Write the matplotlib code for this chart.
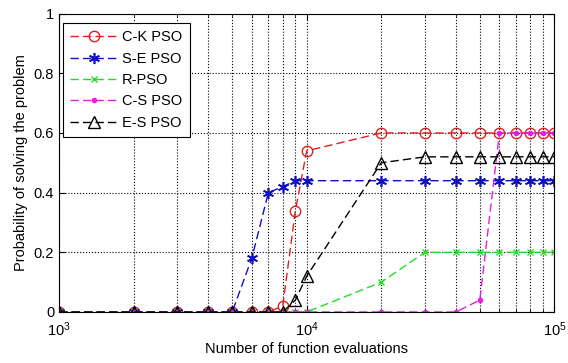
import numpy as np
import matplotlib
matplotlib.use('Agg')
import matplotlib.pyplot as plt
from matplotlib.ticker import FixedLocator, LogLocator, NullFormatter

plt.rcParams.update({
    'font.family': ['Liberation Sans', 'DejaVu Sans'],
    'font.size': 10.5,
    'xtick.direction': 'in',
    'ytick.direction': 'in',
    'xtick.top': True,
    'ytick.right': True,
    'lines.dashed_pattern': (6, 3),
})

# function evaluations (x) and success probability for each variant
evals = [1000, 2000, 3000, 4000, 5000, 6000, 7000, 8000, 9000, 10000,
         20000, 30000, 40000, 50000, 60000, 70000, 80000, 90000, 100000]
ck_pso = [0, 0, 0, 0, 0, 0, 0, 0.02, 0.34, 0.54,
          0.6, 0.6, 0.6, 0.6, 0.6, 0.6, 0.6, 0.6, 0.6]
se_pso = [0, 0, 0, 0, 0, 0.18, 0.40, 0.42, 0.44, 0.44,
          0.44, 0.44, 0.44, 0.44, 0.44, 0.44, 0.44, 0.44, 0.44]
r_pso = [0, 0, 0, 0, 0, 0, 0, 0, 0, 0,
         0.10, 0.2, 0.2, 0.2, 0.2, 0.2, 0.2, 0.2, 0.2]
cs_pso = [0, 0, 0, 0, 0, 0, 0, 0, 0, 0,
          0, 0, 0, 0.04, 0.6, 0.6, 0.6, 0.6, 0.6]
es_pso = [0, 0, 0, 0, 0, 0, 0, 0, 0.04, 0.12,
          0.50, 0.52, 0.52, 0.52, 0.52, 0.52, 0.52, 0.52, 0.52]

fig = plt.figure(figsize=(5.68, 3.63), dpi=100)
ax = fig.add_axes([0.104, 0.1405, 0.872, 0.822])

asterisk = (6, 2, 0)
ax.plot(evals, ck_pso, '--', marker='o', color='#e02020', mfc='none', ms=7.5, lw=1, label='C-K PSO')
ax.plot(evals, se_pso, '--', marker=asterisk, color='#1010c0', ms=8, mew=1.2, lw=1, label='S-E PSO')
ax.plot(evals, r_pso, '--', marker='x', color='#22dd22', ms=5, lw=1, label='R-PSO')
ax.plot(evals, cs_pso, '--', marker='.', color='#e020e0', ms=6, lw=1, label='C-S PSO')
ax.plot(evals, es_pso, '--', marker='^', color='black', mfc='none', ms=8, lw=1, label='E-S PSO')

ax.set_xscale('log')
ax.set_xlim(1e3, 1e5)
ax.set_ylim(0, 1)
ax.set_yticks([0, 0.2, 0.4, 0.6, 0.8, 1])
ax.set_yticklabels(['0', '0.2', '0.4', '0.6', '0.8', '1'])
ax.xaxis.set_major_locator(FixedLocator([1e3, 1e4, 1e5]))
ax.xaxis.set_minor_locator(LogLocator(base=10, subs=np.arange(2, 10)))
ax.xaxis.set_minor_formatter(NullFormatter())
ax.tick_params(which='major', length=4)
ax.tick_params(which='minor', length=2)
ax.tick_params(axis='x', which='major', pad=6)

ax.grid(True, which='major', linestyle=':', color='black', lw=0.8)
ax.grid(True, which='minor', axis='x', linestyle=':', color='black', lw=0.8)

ax.set_xlabel('Number of function evaluations', labelpad=2)
ax.set_ylabel('Probability of solving the problem')

leg = ax.legend(loc='upper left', bbox_to_anchor=(0.008, 0.968), borderaxespad=0,
                fancybox=False, edgecolor='black', framealpha=1,
                handlelength=3.2, borderpad=0.5, labelspacing=0.5,
                handletextpad=0.35, numpoints=1)
leg.get_frame().set_linewidth(0.8)

fig.savefig('out.png', dpi=100)
